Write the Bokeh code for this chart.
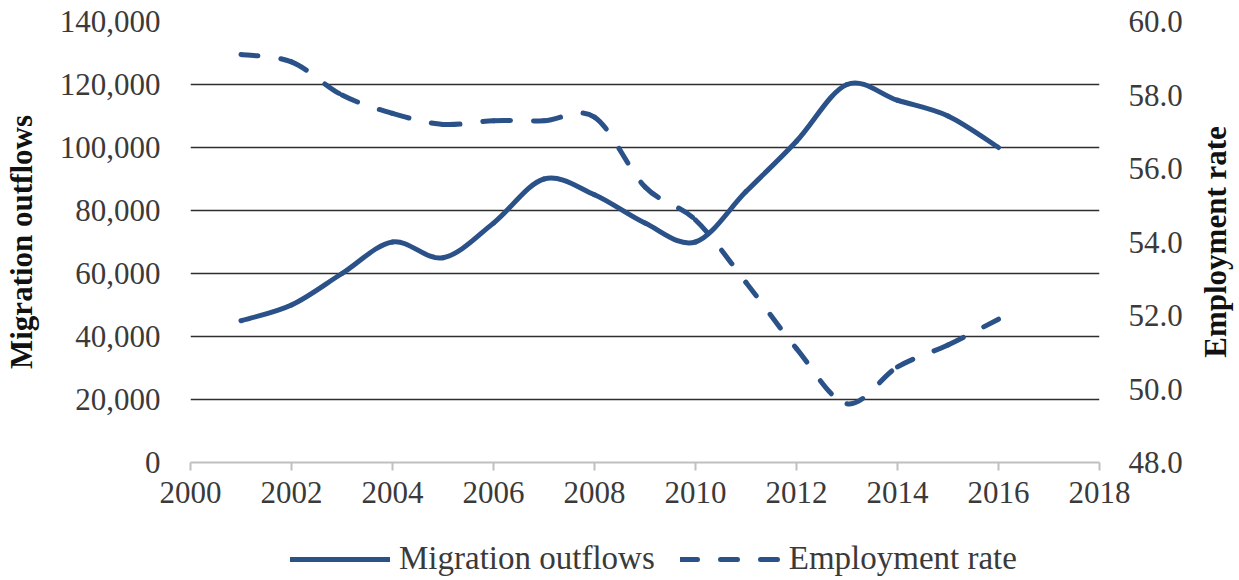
import numpy as np
from bokeh.plotting import figure
from bokeh.layouts import column, row
from bokeh.core.properties import value
from bokeh.models import (Range1d, LinearAxis, FixedTicker, NumeralTickFormatter,
                          Legend, LegendItem, ColumnDataSource)
from bokeh.embed import file_html
from bokeh.resources import INLINE

years = [2001, 2002, 2003, 2004, 2005, 2006, 2007, 2008,
         2009, 2010, 2011, 2012, 2013, 2014, 2015, 2016]
migration_outflows = [45000, 50000, 60000, 70000, 65000, 76000, 90000, 85000,
                      76000, 70000, 86000, 102000, 120000, 115000, 110000, 100000]
employment_rate = [59.1, 58.9, 58.0, 57.5, 57.2, 57.3, 57.3, 57.4,
                   55.5, 54.6, 52.9, 51.1, 49.6, 50.6, 51.2, 51.9]

x_ticks = [2000, 2002, 2004, 2006, 2008, 2010, 2012, 2014, 2016, 2018]
left_ticks = [0, 20000, 40000, 60000, 80000, 100000, 120000, 140000]
right_ticks = [48, 50, 52, 54, 56, 58, 60]
series_names = ["Migration outflows", "Employment rate"]

COLOR = "#2B5189"
FONT = "Liberation Serif"
TXT = "#3a3a3a"
DASH = "17 23"


def smooth_segments(xs, ys):
    """Bezier segments through the data points (Excel-style smoothed line)."""
    x = np.asarray(xs, dtype=float)
    y = np.asarray(ys, dtype=float)
    xp = np.concatenate([[x[0]], x, [x[-1]]])
    yp = np.concatenate([[y[0]], y, [y[-1]]])
    tx = (xp[2:] - xp[:-2]) / 6.0
    ty = (yp[2:] - yp[:-2]) / 6.0
    return dict(x0=x[:-1], y0=y[:-1], x1=x[1:], y1=y[1:],
                cx0=x[:-1] + tx[:-1], cy0=y[:-1] + ty[:-1],
                cx1=x[1:] - tx[1:], cy1=y[1:] - ty[1:])


p = figure(frame_width=909, frame_height=441, output_backend="svg", toolbar_location=None,
           x_range=Range1d(2000, 2018), y_range=Range1d(0, 140000),
           min_border_left=190, min_border_right=100, min_border_top=21,
           min_border_bottom=58, x_axis_location=None, y_axis_location=None)
p.outline_line_color = None
p.background_fill_color = "white"
p.border_fill_color = "white"
p.extra_y_ranges = {"right": Range1d(48, 60)}

# x axis
xaxis = LinearAxis(ticker=FixedTicker(ticks=x_ticks))
xaxis.axis_line_color = "#c0c0c0"
xaxis.axis_line_width = 2
xaxis.major_tick_line_color = "#c0c0c0"
xaxis.major_tick_line_width = 2
xaxis.major_tick_out = 8
xaxis.major_tick_in = 0
xaxis.minor_tick_line_color = None
xaxis.major_label_text_font = FONT
xaxis.major_label_text_font_size = "31px"
xaxis.major_label_text_color = TXT
xaxis.major_label_standoff = 11
p.add_layout(xaxis, "below")

# left axis
laxis = LinearAxis(ticker=FixedTicker(ticks=left_ticks),
                   formatter=NumeralTickFormatter(format="0,0"),
                   axis_label=series_names[0])
laxis.axis_line_color = None
laxis.major_tick_line_color = None
laxis.minor_tick_line_color = None
laxis.major_label_text_font = FONT
laxis.major_label_text_font_size = "31px"
laxis.major_label_text_color = TXT
laxis.major_label_standoff = 24
laxis.axis_label_text_font = FONT
laxis.axis_label_text_font_size = "31px"
laxis.axis_label_text_font_style = "bold"
laxis.axis_label_text_color = "#111111"
laxis.axis_label_standoff = 18
p.add_layout(laxis, "left")

# right axis (its title is drawn in the narrow strip to the right)
raxis = LinearAxis(y_range_name="right", ticker=FixedTicker(ticks=right_ticks),
                   formatter=NumeralTickFormatter(format="0.0"))
raxis.axis_line_color = None
raxis.major_tick_line_color = None
raxis.minor_tick_line_color = None
raxis.major_label_text_font = FONT
raxis.major_label_text_font_size = "31px"
raxis.major_label_text_color = TXT
raxis.major_label_standoff = 23
p.add_layout(raxis, "right")

# grid
p.xgrid.visible = False
p.ygrid.ticker = FixedTicker(ticks=left_ticks[1:])
p.ygrid.grid_line_color = "#2e2e2e"
p.ygrid.grid_line_width = 1.5

src_m = ColumnDataSource(smooth_segments(years, migration_outflows))
src_e = ColumnDataSource(smooth_segments(years, employment_rate))

p.bezier(x0="x0", y0="y0", x1="x1", y1="y1", cx0="cx0", cy0="cy0",
         cx1="cx1", cy1="cy1", source=src_m, line_color=COLOR,
         line_width=5, line_cap="round")
p.bezier(x0="x0", y0="y0", x1="x1", y1="y1", cx0="cx0", cy0="cy0",
         cx1="cx1", cy1="cy1", source=src_e, line_color=COLOR,
         line_width=5, line_dash=DASH, line_cap="round",
         y_range_name="right")

# legend strip below the chart (its frame is aligned with the chart frame)
q = figure(width=1199, height=60, output_backend="svg", toolbar_location=None,
           x_range=Range1d(2000, 2018), y_range=Range1d(0, 1),
           min_border=0, x_axis_location=None, y_axis_location=None)
q.outline_line_color = None
q.xgrid.visible = False
q.ygrid.visible = False
q.border_fill_color = "white"
l_m = q.line(x=years, y=migration_outflows, line_color=COLOR, line_width=5,
             line_cap="round", visible=False)
l_e = q.line(x=years, y=employment_rate, line_color=COLOR, line_width=5,
             line_dash=DASH, line_cap="round", visible=False)
legend = Legend(items=[LegendItem(label=series_names[0], renderers=[l_m]),
                       LegendItem(label=series_names[1], renderers=[l_e])],
                orientation="horizontal", location=(100, 3))
legend.label_text_font = FONT
legend.label_text_font_size = "33px"
legend.label_text_color = TXT
legend.glyph_width = 100
legend.glyph_height = 20
legend.label_standoff = 9
legend.spacing = 25
legend.border_line_color = None
legend.background_fill_alpha = 0
legend.margin = 0
legend.padding = 0
q.add_layout(legend, "center")

# right-hand axis title strip (reads bottom to top)
r = figure(frame_width=40, frame_height=441, output_backend="svg", toolbar_location=None,
           x_range=Range1d(0, 40), y_range=Range1d(0, 1),
           min_border_left=0, min_border_right=0, min_border_top=21,
           min_border_bottom=58, x_axis_location=None, y_axis_location=None)
r.outline_line_color = None
r.xgrid.visible = False
r.ygrid.visible = False
r.border_fill_color = "white"
r.text(x=[16], y=[0.5], text=[series_names[1]], angle=float(np.pi / 2),
       text_align="center", text_baseline="middle", text_font=value(FONT),
       text_font_size="31px", text_font_style="bold", text_color="#111111")

open("out.html", "w").write(file_html(row(column(p, q, spacing=0), r, spacing=0), INLINE))
